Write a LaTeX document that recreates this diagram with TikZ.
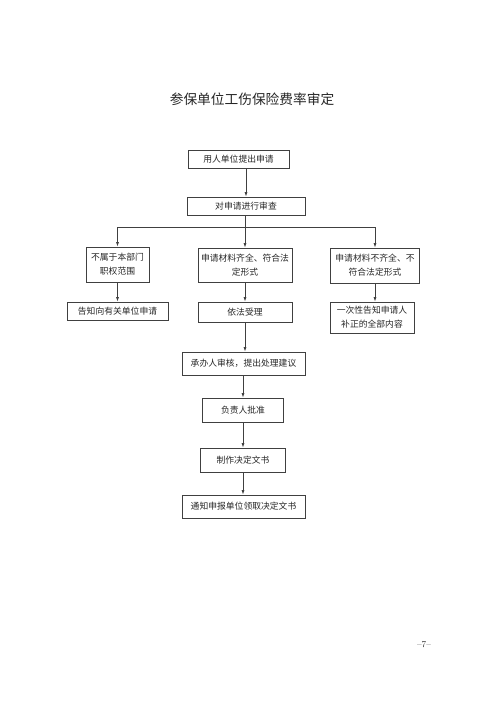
\documentclass[tikz,border=0pt]{standalone}
\usepackage{fontspec}
\newfontfamily\cjk{Noto Sans CJK SC}
\usetikzlibrary{arrows.meta}
\tikzset{>={Latex[width=3pt,length=4.5pt]}}
\tikzset{
  flowbox/.style={draw=black!75, line width=0.7pt, inner sep=1pt, align=center,
    font=\cjk\fontsize{8.8}{14}\selectfont, text=black!85},
  flowline/.style={draw=black!75, line width=0.7pt}
}

\begin{document}
\begin{tikzpicture}[x=1pt,y=-1pt]
  \useasboundingbox (0,0) rectangle (500,714);
  % Title
  \node[font=\cjk\fontsize{13.7}{16}\selectfont, text=black!85] (title) at (252,99) {参保单位工伤保险费率审定};
  % Top of the flow
  \node[flowbox, minimum width=101pt, minimum height=18pt] (apply) at (238.5,159) {用人单位提出申请};
  \node[flowbox, minimum width=118pt, minimum height=18pt] (review) at (246,206) {对申请进行审查};
  % Three branches
  \node[flowbox, minimum width=63pt, minimum height=35pt] (outside) at (117.5,264.5) {不属于本部门\\职权范围};
  \node[flowbox, minimum width=94pt, minimum height=34pt] (complete) at (245,265) {申请材料齐全、符合法\\定形式};
  \node[flowbox, minimum width=89pt, minimum height=35pt] (incomplete) at (375,265.5) {申请材料不齐全、不\\符合法定形式};
  \node[flowbox, minimum width=101pt, minimum height=18pt] (redirect) at (117.5,311) {告知向有关单位申请};
  \node[flowbox, minimum width=94pt, minimum height=20pt] (accept) at (245,312) {依法受理};
  \node[flowbox, minimum width=84pt, minimum height=31pt] (supplement) at (372,317.5) {一次性告知申请人\\补正的全部内容};
  % Main column
  \node[flowbox, minimum width=123pt, minimum height=23pt] (handler) at (243.5,363.5) {承办人审核，提出处理建议};
  \node[flowbox, minimum width=81pt, minimum height=24pt] (approve) at (243,410) {负责人批准};
  \node[flowbox, minimum width=85pt, minimum height=24pt] (decision) at (243,460) {制作决定文书};
  \node[flowbox, minimum width=123pt, minimum height=23pt] (notify) at (243.5,506.5) {通知申报单位领取决定文书};
  % Page number
  \node[font=\fontsize{9}{10}\selectfont, text=black!80] (page) at (424,645) {--7--};
  % Connectors
  \coordinate (split) at (245,227);
  \draw[flowline, ->] (apply.south -| review.north) -- (review.north);
  \draw[flowline] (review.south -| split) -- (split);
  \draw[flowline, ->] (split) -| (outside.north);
  \draw[flowline, ->] (split) -- (complete.north);
  \draw[flowline, ->] (split) -| (incomplete.north);
  \draw[flowline, ->] (outside.south -| redirect.north) -- (redirect.north);
  \draw[flowline, ->] (complete.south) -- (accept.north);
  \draw[flowline, ->] (incomplete.south) -- (incomplete.south |- supplement.north);
  \draw[flowline, ->] (accept.south) -- (accept.south |- handler.north);
  \draw[flowline, ->] (handler.south -| approve.north) -- (approve.north);
  \draw[flowline, ->] (approve.south) -- (decision.north);
  \draw[flowline, ->] (decision.south) -- (decision.south |- notify.north);
\end{tikzpicture}
\end{document}
